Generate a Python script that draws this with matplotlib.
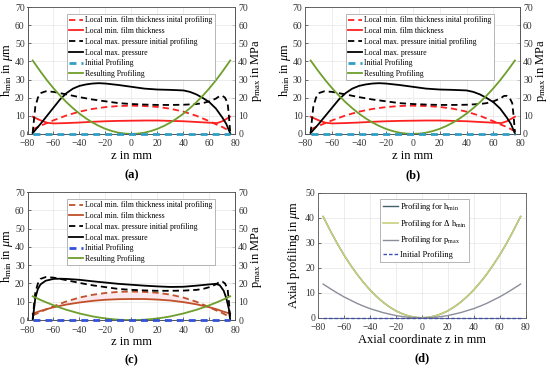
import numpy as np
import matplotlib
matplotlib.use("Agg")
import matplotlib.pyplot as plt

plt.rcParams['font.family'] = ['Liberation Serif', 'DejaVu Serif']
plt.rcParams['mathtext.fontset'] = 'custom'
plt.rcParams['mathtext.rm'] = 'Liberation Serif'
plt.rcParams['mathtext.it'] = 'Liberation Serif:italic'

# ---- data ----
z_prof = [-76, -70, -65, -60, -55, -50, -45, -40, -35, -30, -25, -20, -15, -10, -5, 0,
          5, 10, 15, 20, 25, 30, 35, 40, 45, 50, 55, 60, 65, 70, 76]
prof_dh = [40.5, 34.4, 29.6, 25.2, 21.2, 17.5, 14.2, 11.2, 8.6, 6.3, 4.4, 2.8, 1.6, 0.7, 0.2, 0.0,
           0.2, 0.7, 1.6, 2.8, 4.4, 6.3, 8.6, 11.2, 14.2, 17.5, 21.2, 25.2, 29.6, 34.4, 40.5]
prof_p = [13.0, 11.0, 9.5, 8.1, 6.8, 5.6, 4.6, 3.6, 2.8, 2.0, 1.4, 0.9, 0.5, 0.2, 0.05, 0.0,
          0.05, 0.2, 0.5, 0.9, 1.4, 2.0, 2.8, 3.6, 4.6, 5.6, 6.8, 8.1, 9.5, 11.0, 13.0]
prof_p_d = [13.5, 11.5, 9.9, 8.4, 7.1, 5.8, 4.7, 3.7, 2.9, 2.1, 1.5, 0.9, 0.5, 0.2, 0.05, 0.0,
            0.05, 0.2, 0.5, 0.9, 1.5, 2.1, 2.9, 3.7, 4.7, 5.8, 7.1, 8.4, 9.9, 11.5, 13.5]
prof_init = [0.0] * len(z_prof)

z_h = [-76, -70, -65, -60, -50, -40, -30, -20, -10, 0, 10, 20, 30, 40, 50, 60, 66, 70, 76]
h_init = [2.5, 4.5, 6.0, 7.5, 10.2, 12.3, 13.8, 14.8, 15.4, 15.6, 15.4, 14.9, 13.9, 12.3, 10.0, 7.0, 5.0, 3.8, 1.5]
h_res_a = [9.5, 7.5, 6.2, 5.8, 6.0, 6.3, 6.7, 7.0, 7.2, 7.3, 7.4, 7.4, 7.2, 7.0, 6.6, 6.2, 6.0, 7.0, 9.5]
h_res_c = [3.5, 5.0, 6.0, 7.0, 8.5, 9.6, 10.5, 11.1, 11.4, 11.5, 11.5, 11.2, 10.7, 9.8, 8.6, 7.0, 5.8, 4.8, 3.5]

z_pi = [-76, -75, -74, -72, -70, -66, -60, -50, -40, -30, -20, -10, 0, 10, 20, 30, 40,
        50, 55, 60, 65, 68, 70, 72, 74, 75, 76]
p_init = [0.5, 8.0, 15.0, 20.0, 22.5, 23.5, 23.2, 21.8, 20.3, 19.0, 18.0, 17.0, 16.5, 16.2, 16.0, 16.0, 16.1,
          16.5, 17.0, 18.0, 19.5, 21.0, 21.0, 20.0, 17.0, 10.0, 1.0]

z_pa = [-76, -70, -65, -60, -55, -50, -45, -40, -35, -30, -25, -20, -10, 0, 10, 20, 30, 40,
        45, 50, 55, 60, 65, 70, 73, 76]
p_res_a = [0.5, 5.5, 10.0, 14.5, 19.0, 22.5, 25.0, 26.5, 27.3, 27.8, 28.0, 27.8, 27.0, 26.0, 25.0, 24.5, 24.3, 24.0,
           23.2, 21.8, 19.8, 17.5, 14.0, 9.0, 5.5, 0.3]

z_pc = [-76, -75, -74, -72, -70, -66, -60, -55, -50, -40, -30, -20, -10, 0, 10, 20, 30, 40,
        50, 60, 65, 68, 71, 73, 75, 76]
p_res_c = [0.0, 6.0, 12.0, 17.0, 19.5, 21.5, 22.5, 22.6, 22.5, 22.0, 21.2, 20.5, 19.8, 19.3, 18.8, 18.4, 18.1, 18.2,
           18.8, 19.5, 19.8, 19.0, 16.0, 12.0, 6.0, 0.0]

labels = ['Local min. film thickness inital profiling', 'Local min. film thickness',
          'Local max. pressure initial profiling', 'Local max. pressure',
          'Initial Profiling', 'Resulting Profiling']

fig = plt.figure(figsize=(5.5, 3.7), dpi=100)

GRID = '#e6e6e6'
SPINE = '#555555'


def style(ax, ymax, ystep):
    ax.set_xlim(-80, 80)
    ax.set_ylim(0, ymax)
    ax.set_xticks(np.arange(-80, 81, 20))
    ax.set_yticks(np.arange(0, ymax + 1, ystep))
    ax.grid(True, color=GRID, linewidth=0.5)
    ax.set_axisbelow(True)
    ax.tick_params(direction='in', length=2.5, width=0.5, labelsize=7, colors='#333333', pad=2)
    ax.tick_params(axis='x', pad=4)
    for s in ax.spines.values():
        s.set_color(SPINE)
        s.set_linewidth(0.6)


def panel(rect, h_col, h_res, p_res, prof, blue, tag, tag_dy, shade=False):
    ax = fig.add_axes(rect)
    style(ax, 70, 10)
    ax2 = ax.twinx()
    style(ax2, 70, 10)
    ax2.grid(False)
    ax2.set_ylabel(r'p$_{\rm max}$ in MPa', fontsize=9, rotation=90, labelpad=1)
    # draw curves on top of the twin axis so the zero line stays visible
    ax.set_zorder(ax2.get_zorder() + 1)
    ax.patch.set_visible(False)
    if shade:
        ax.fill_between(z_h, h_res, h_init, color='#fbe0e6', alpha=0.7, linewidth=0)
    ax.plot(z_h, h_init, color=h_col, lw=1.3, dashes=(3.5, 2.2), label=labels[0])
    ax.plot(z_h, h_res, color=h_col, lw=1.3, label=labels[1])
    ax.plot(z_pi, p_init, color='black', lw=1.3, dashes=(3.5, 2.2), label=labels[2])
    ax.plot(p_res[0], p_res[1], color='black', lw=1.3, label=labels[3])
    ax.plot(z_prof, prof_init, color=blue, lw=2.0, dashes=(2.5, 1.8), label=labels[4],
            clip_on=False, zorder=4)
    ax.plot(z_prof, prof, color='#6e9e2b', lw=1.3, label=labels[5])
    ax.set_xlabel('z in mm', fontsize=9, labelpad=1)
    ax.set_ylabel(r'h$_{\rm min}$ in $\mu$m', fontsize=9, labelpad=0)
    leg = ax.legend(loc='upper left', bbox_to_anchor=(0.17, 0.975), fontsize=5.6,
                    handlelength=1.8, labelspacing=0.35, borderpad=0.3, handletextpad=0.3,
                    fancybox=False, framealpha=1, edgecolor='#999999')
    leg.get_frame().set_linewidth(0.5)
    x0 = rect[0] + rect[2] / 2
    fig.text(x0, rect[1] - tag_dy, tag, ha='center', va='center', fontsize=9, fontweight='bold')
    return ax


panel([0.050, 0.638, 0.378, 0.343], '#ff2020', h_res_a, (z_pa, p_res_a), prof_dh, '#2f9fc6', '(a)', 0.111)
panel([0.555, 0.638, 0.391, 0.343], '#ff2020', h_res_a, (z_pa, p_res_a), prof_dh, '#2f9fc6', '(b)', 0.111)
panel([0.050, 0.135, 0.378, 0.346], '#c0502a', h_res_c, (z_pc, p_res_c), prof_p, '#3352d6', '(c)', 0.110,
      shade=True)

# panel (d)
axd = fig.add_axes([0.578, 0.141, 0.378, 0.338])
style(axd, 50, 10)
axd.plot(z_prof, prof_dh, color='#3e5f6e', lw=1.0, label=r'Profiling for h$_{\rm min}$')
axd.plot(z_prof, prof_dh, color='#c6d07a', lw=1.2, label=r'Profiling for $\Delta$ h$_{\rm min}$')
axd.plot(z_prof, prof_p_d, color='#8a8e99', lw=1.0, label=r'Profiling for p$_{\rm max}$')
axd.plot(z_prof, prof_init, color='#3a4fb0', lw=1.0, dashes=(2.5, 1.5), label='Initial Profiling',
         clip_on=False, zorder=4)
axd.set_xlabel('Axial coordinate z in mm', fontsize=9, labelpad=1)
axd.set_ylabel(r'Axial profiling in $\mu$m', fontsize=9, labelpad=2)
legd = axd.legend(loc='upper left', bbox_to_anchor=(0.28, 0.985), fontsize=6,
                  handlelength=1.8, labelspacing=0.55, borderpad=0.3, handletextpad=0.3,
                  fancybox=False, framealpha=1, edgecolor='#999999')
legd.get_frame().set_linewidth(0.5)
fig.text(0.578 + 0.378 / 2, 0.141 - 0.108, '(d)', ha='center', va='center', fontsize=9, fontweight='bold')

fig.savefig('out.png', dpi=100)
